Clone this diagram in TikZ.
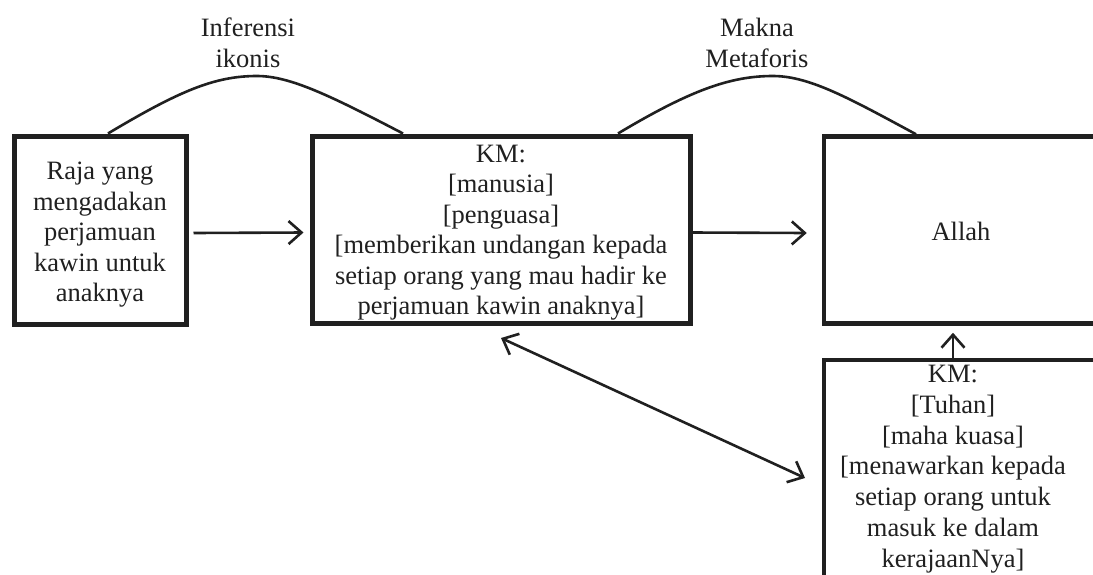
\documentclass[tikz,border=0pt]{standalone}
\usepackage{fontspec}
\setmainfont{Liberation Serif}
\usetikzlibrary{arrows.meta,calc}
\definecolor{ink}{HTML}{202020}
\begin{document}
\begin{tikzpicture}[x=1pt,y=-1pt,
  txt/.style={inner sep=0pt, align=center, text=ink,
    font=\fontsize{26.5}{31.5}\selectfont},
  box/.style={draw=ink, line width=5pt, rectangle, inner sep=0pt},
  thinbox/.style={box, line width=4.5pt},
  conn/.style={draw=ink, line width=2.6pt, -{Straight Barb[length=13pt,width=23pt]}},
  both/.style={draw=ink, line width=2.6pt,
    {Straight Barb[length=13pt,width=23pt]}-{Straight Barb[length=13pt,width=23pt]}},
  arc/.style={draw=ink, line width=2.6pt}
]
\useasboundingbox (0,0) rectangle (1093,574);
\clip (0,0) rectangle (1093,574);

% boxes
\node[box, minimum width=172pt, minimum height=188pt] (raja) at (100,230) {};
\node[box, minimum width=378pt, minimum height=187pt] (km1) at (501,229.5) {};
\node[thinbox, minimum width=276pt, minimum height=187pt] (allah) at (962,230) {};
\node[thinbox, minimum width=276pt, minimum height=300pt] (tuhan) at (962,510) {};

% box texts
\node[txt, anchor=north, font=\fontsize{26.5}{30.5}\selectfont] (rajatext) at (100,162)
  {Raja yang\\mengadakan\\perjamuan\\kawin untuk\\anaknya};
\node[txt, anchor=north, font=\fontsize{26.5}{30.4}\selectfont] (km1text) at (501,145)
  {KM:\\{[manusia]}\\{[penguasa]}\\{[memberikan undangan kepada}\\setiap orang yang mau hadir ke\\perjamuan kawin anaknya]};
\node[txt] (allahtext) at (961,231) {Allah};
\node[txt, anchor=north, font=\fontsize{26.5}{30.8}\selectfont] (tuhantext) at (953,365)
  {KM:\\{[Tuhan]}\\{[maha kuasa]}\\{[menawarkan kepada}\\setiap orang untuk\\masuk ke dalam\\kerajaanNya]};

% arc labels
\node[txt] (inferensi) at (248,43) {Inferensi\\ikonis};
\node[txt] (makna) at (757,43) {Makna\\Metaforis};

% peaks of the arcs and free end of the double arrow
\coordinate (peak1) at (257,76);
\coordinate (peak2) at (773,76);
\coordinate (dend) at (805,478);

% arcs over the boxes
\draw[arc] ([xshift=8pt]raja.north) .. controls +(72,-43) and +(-42,0) .. (peak1)
  .. controls +(33,0) and +(-73,-38) .. ([xshift=-98pt]km1.north);
\draw[arc] ([xshift=117pt]km1.north) .. controls +(72,-43) and +(-43,0) .. (peak2)
  .. controls +(37,0) and +(-65,-35) .. ([xshift=-46pt]allah.north);

% arrows
\draw[conn] ([xshift=5pt,yshift=-3pt]raja.east) -- ([xshift=-6pt,yshift=-3pt]km1.west);
\draw[conn] ([yshift=-3pt]km1.east) -- ([xshift=-15pt,yshift=-3pt]allah.west);
\draw[conn] ([xshift=-9pt]tuhan.north) -- ([xshift=-9pt,yshift=-7pt]allah.south);
\draw[both] ([yshift=-12.5pt]km1.south) -- (dend);
\end{tikzpicture}
\end{document}
